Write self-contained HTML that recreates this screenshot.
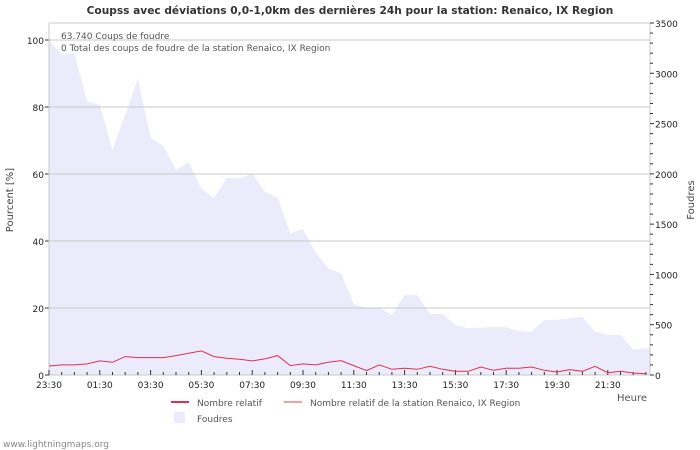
<!DOCTYPE html>
<html><head><meta charset="utf-8">
<style>
body{margin:0;background:#fff;}
svg{display:block;font-family:"DejaVu Sans","Liberation Sans",sans-serif;}
</style></head>
<body>
<svg id="chart" width="700" height="450" viewBox="0 0 700 450">
<text x="350" y="14" text-anchor="middle" font-size="10.6" font-weight="bold" fill="#333">Coupss avec déviations 0,0-1,0km des dernières 24h pour la station: Renaico, IX Region</text>
<g id="plot"></g>
<text x="61" y="39" font-size="9" fill="#555">63.740  Coups de foudre</text>
<text x="61" y="51" font-size="9" fill="#555">0 Total des coups de foudre de la station Renaico, IX Region</text>
<text transform="translate(13,200) rotate(-90)" text-anchor="middle" font-size="10" fill="#444">Pourcent   [%]</text>
<text transform="translate(694,200) rotate(-90)" text-anchor="middle" font-size="10" fill="#444">Foudres</text>
<text x="647" y="401" text-anchor="end" font-size="10" fill="#555">Heure</text>
<g>
<rect x="171" y="401" width="18" height="2" fill="#e03050"/>
<text x="197" y="406" font-size="9" fill="#555">Nombre relatif</text>
<rect x="284" y="401" width="18" height="2" fill="#f4a0a0"/>
<text x="310" y="406" font-size="9" fill="#555">Nombre relatif de la station Renaico, IX Region</text>
<rect x="174" y="412" width="11" height="11" fill="#ebebfb"/>
<text x="197" y="422" font-size="9" fill="#555">Foudres</text>
</g>
<text x="3" y="447" font-size="9" fill="#888">www.lightningmaps.org</text>
</svg>
<script>
const foudres=[3331,3182,3199,2718,2685,2237,2585,2950,2360,2280,2038,2121,1850,1763,1962,1955,2004,1823,1763,1409,1449,1220,1061,1011,703,670,670,597,796,791,607,607,497,464,471,477,474,437,431,547,550,563,580,431,398,398,255,265];
const relatif=[2.7,3.0,3.0,3.3,4.2,3.8,5.5,5.2,5.2,5.2,5.8,6.5,7.2,5.5,5.0,4.7,4.2,4.8,5.8,2.8,3.3,3.0,3.8,4.3,2.8,1.3,3.0,1.7,2.0,1.7,2.6,1.7,1.1,1.1,2.4,1.4,2.0,2.0,2.4,1.4,0.9,1.6,1.1,2.6,0.7,1.1,0.6,0.4];
const leftTicks=[0,20,40,60,80,100];
const rightTicks=[0,500,1000,1500,2000,2500,3000,3500];
const xLabels=["23:30","01:30","03:30","05:30","07:30","09:30","11:30","13:30","15:30","17:30","19:30","21:30"];
const NS="http://www.w3.org/2000/svg";
const X0=49,X1=650,Y0=375;
const step=12.7;
const xs=i=>X0+i*step;
const yL=v=>Y0-v*3.35;
const yR=v=>Y0-v*352/3500;
const g=document.getElementById('plot');
function mk(t,a){const e=document.createElementNS(NS,t);for(const k in a)e.setAttribute(k,a[k]);g.appendChild(e);return e;}
let d=`M${X0},${Y0}`;
foudres.forEach((v,i)=>{d+=` L${xs(i).toFixed(1)},${yR(v).toFixed(1)}`;});
d+=` L${X1},${yR(foudres[foudres.length-1]).toFixed(1)} L${X1},${Y0} Z`;
let a=mk('path',{d:d,fill:'#ebebfb'});


leftTicks.forEach(v=>{
 if(v>0){let l=mk('line',{x1:X0,x2:X1,y1:yL(v),y2:yL(v),stroke:'#c8c8c8','stroke-width':1});
 
 }
 let t=mk('text',{x:44,y:yL(v)+4,'text-anchor':'end','font-size':9,fill:'#222'});t.textContent=v;
 
 
 mk('line',{x1:X0-4,x2:X0,y1:yL(v),y2:yL(v),stroke:'#333'});
});
mk('line',{x1:X0,x2:X1,y1:23,y2:23,stroke:'#c8c8c8'});
mk('line',{x1:X0,x2:X0,y1:23,y2:Y0,stroke:'#c8c8c8'});
mk('line',{x1:X1,x2:X1,y1:23,y2:Y0,stroke:'#c8c8c8'});
mk('line',{x1:X0,x2:X1,y1:Y0,y2:Y0,stroke:'#c8c8c8'});
for(let v=0;v<=3500;v+=100){const maj=v%500===0;mk('line',{x1:X1,x2:X1+(maj?4:3),y1:yR(v),y2:yR(v),stroke:'#333'});}
rightTicks.forEach(v=>{let t=mk('text',{x:655,y:yR(v)+4,'font-size':9,fill:'#222'});t.textContent=v;
 
 });
for(let i=0;i<48;i++){const maj=i%4===0;mk('line',{x1:xs(i),x2:xs(i),y1:Y0-(maj?5:3),y2:Y0,stroke:'#333'});}
xLabels.forEach((s,k)=>{let t=mk('text',{x:xs(k*4),y:388,'text-anchor':'middle','font-size':9,fill:'#222'});t.textContent=s;
 
 });
let pts=relatif.map((v,i)=>xs(i).toFixed(1)+','+yL(v).toFixed(1)).join(' ');
let pl=mk('polyline',{points:pts,fill:'none',stroke:'#e03050','stroke-width':1});


</script>
</body></html>
